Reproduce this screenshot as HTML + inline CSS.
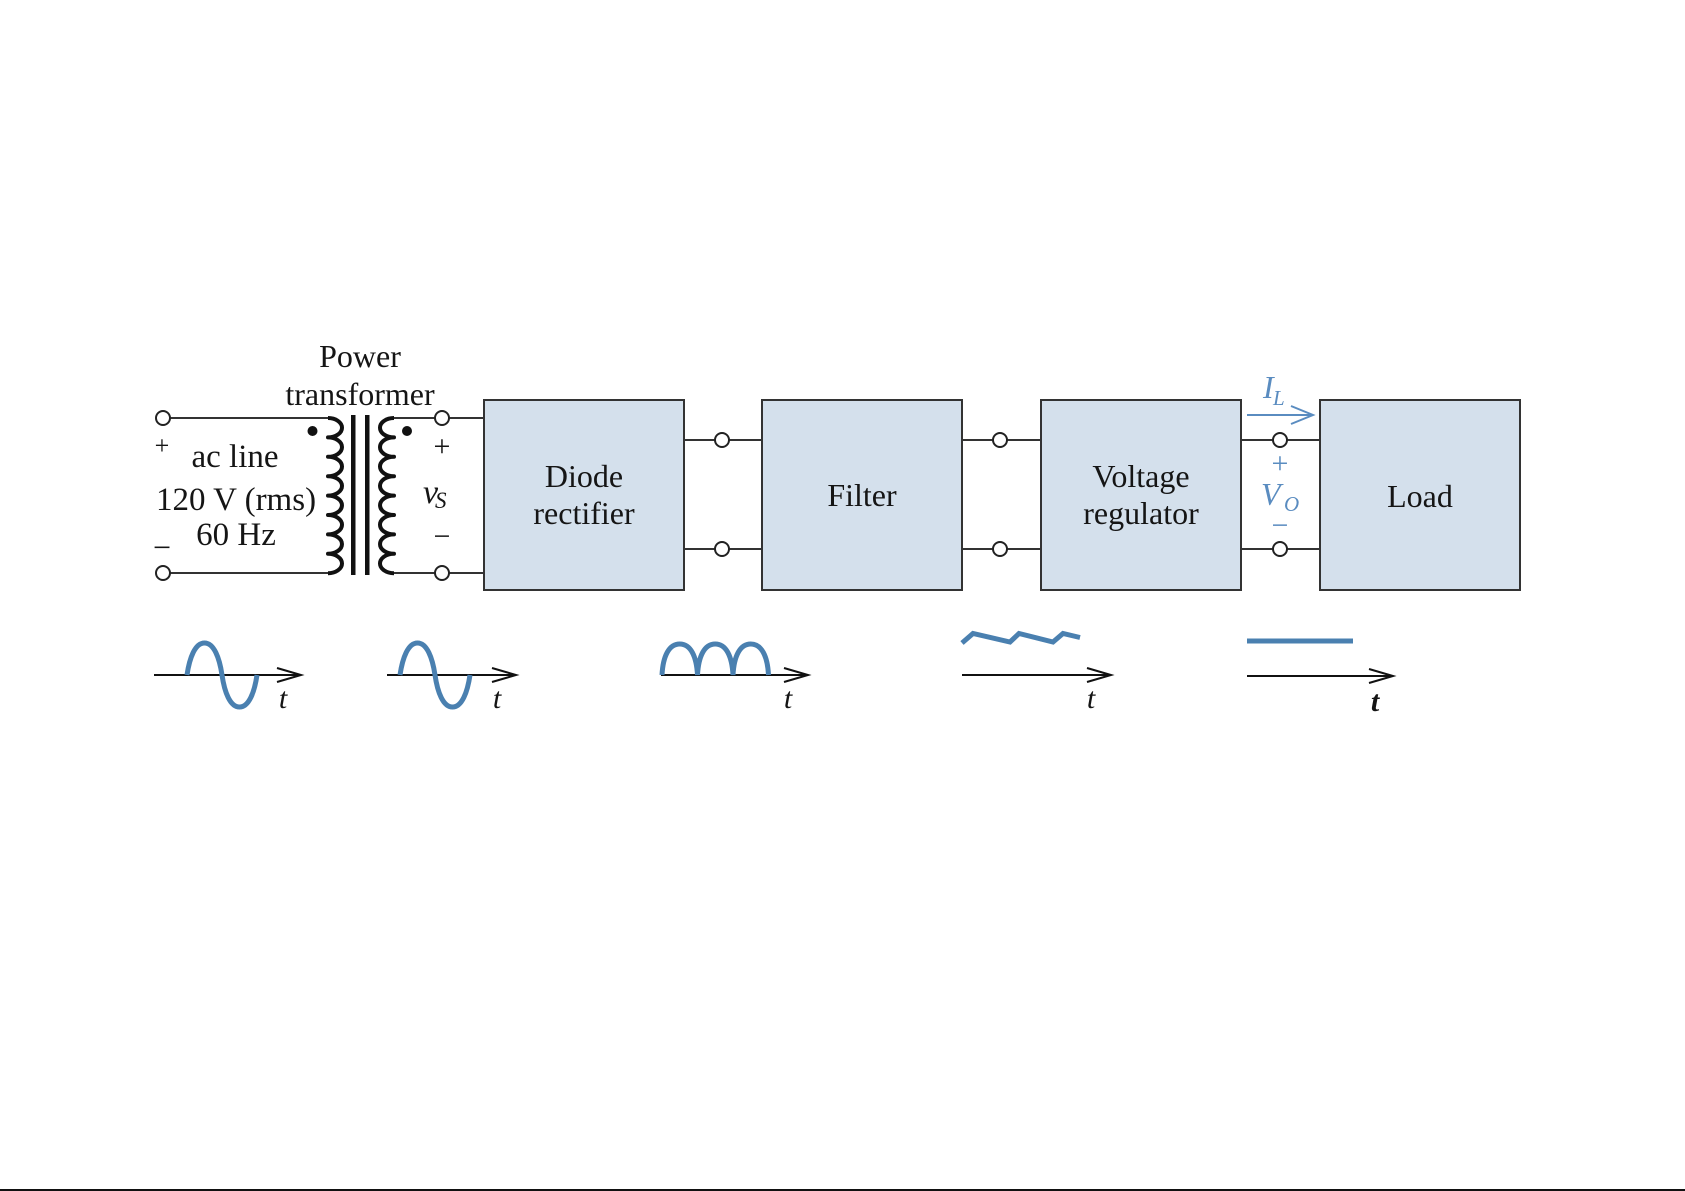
<!DOCTYPE html>
<html>
<head>
<meta charset="utf-8">
<style>
  html, body { margin:0; padding:0; background:#ffffff; }
  svg { display:block; }
  .t { font-family:"Liberation Serif", "Times New Roman", serif; fill:#151515; }
  .b { font-family:"Liberation Serif", "Times New Roman", serif; fill:#5a8cc0; }
</style>
</head>
<body>
<svg width="1685" height="1191" viewBox="0 0 1685 1191" xmlns="http://www.w3.org/2000/svg">
  <rect x="0" y="0" width="1685" height="1191" fill="#ffffff"/>

  <!-- ===== Input terminals & wires ===== -->
  <g stroke="#333" stroke-width="2" fill="none">
    <line x1="170" y1="418" x2="329" y2="418"/>
    <line x1="170" y1="573" x2="329" y2="573"/>
    <line x1="393" y1="418" x2="435" y2="418"/>
    <line x1="393" y1="573" x2="435" y2="573"/>
    <line x1="449" y1="418" x2="484" y2="418"/>
    <line x1="449" y1="573" x2="484" y2="573"/>
  </g>
  <g stroke="#222" stroke-width="2" fill="#fff">
    <circle cx="163" cy="418" r="7"/>
    <circle cx="163" cy="573" r="7"/>
    <circle cx="442" cy="418" r="7"/>
    <circle cx="442" cy="573" r="7"/>
  </g>

  <!-- ===== Transformer ===== -->
  <path fill="none" stroke="#111" stroke-width="4" stroke-linejoin="round"
    d="M328 418
       A14 9.7 0 0 1 328 437.4
       A14 9.7 0 0 1 328 456.8
       A14 9.7 0 0 1 328 476.2
       A14 9.7 0 0 1 328 495.6
       A14 9.7 0 0 1 328 515
       A14 9.7 0 0 1 328 534.4
       A14 9.7 0 0 1 328 553.8
       A14 9.7 0 0 1 328 573.2"/>
  <path fill="none" stroke="#111" stroke-width="4" stroke-linejoin="round"
    d="M394 418
       A14 9.7 0 0 0 394 437.4
       A14 9.7 0 0 0 394 456.8
       A14 9.7 0 0 0 394 476.2
       A14 9.7 0 0 0 394 495.6
       A14 9.7 0 0 0 394 515
       A14 9.7 0 0 0 394 534.4
       A14 9.7 0 0 0 394 553.8
       A14 9.7 0 0 0 394 573.2"/>
  <rect x="351" y="415" width="4.5" height="160" fill="#111"/>
  <rect x="365" y="415" width="4.5" height="160" fill="#111"/>
  <circle cx="312.5" cy="431" r="5" fill="#111"/>
  <circle cx="407" cy="431" r="5" fill="#111"/>

  <!-- Labels left -->
  <text class="t" x="360" y="367" font-size="32" text-anchor="middle">Power</text>
  <text class="t" x="360" y="405" font-size="32" text-anchor="middle">transformer</text>
  <text class="t" x="162" y="454" font-size="26" text-anchor="middle" fill="#333">+</text>
  <text class="t" x="162" y="558" font-size="32" text-anchor="middle">−</text>
  <text class="t" x="235" y="467" font-size="33" text-anchor="middle">ac line</text>
  <text class="t" x="236" y="510" font-size="33" text-anchor="middle">120 V (rms)</text>
  <text class="t" x="236" y="545" font-size="33" text-anchor="middle">60 Hz</text>
  <text class="t" x="442" y="456" font-size="30" text-anchor="middle">+</text>
  <text class="t" x="442" y="546" font-size="30" text-anchor="middle">−</text>
  <text class="t" x="423" y="503" font-size="34" font-style="italic">v</text>
  <text class="t" x="435" y="508" font-size="23" font-style="italic">S</text>

  <!-- ===== Blocks ===== -->
  <g fill="#d4e0ec" stroke="#333" stroke-width="2">
    <rect x="484" y="400" width="200" height="190"/>
    <rect x="762" y="400" width="200" height="190"/>
    <rect x="1041" y="400" width="200" height="190"/>
    <rect x="1320" y="400" width="200" height="190"/>
  </g>
  <text class="t" x="584" y="487" font-size="32" text-anchor="middle">Diode</text>
  <text class="t" x="584" y="524" font-size="32" text-anchor="middle">rectifier</text>
  <text class="t" x="862" y="506" font-size="32" text-anchor="middle">Filter</text>
  <text class="t" x="1141" y="487" font-size="32" text-anchor="middle">Voltage</text>
  <text class="t" x="1141" y="524" font-size="32" text-anchor="middle">regulator</text>
  <text class="t" x="1420" y="507" font-size="32" text-anchor="middle">Load</text>

  <!-- Inter-block wires -->
  <g stroke="#333" stroke-width="2" fill="none">
    <line x1="684" y1="440" x2="715" y2="440"/>
    <line x1="729" y1="440" x2="762" y2="440"/>
    <line x1="684" y1="549" x2="715" y2="549"/>
    <line x1="729" y1="549" x2="762" y2="549"/>
    <line x1="962" y1="440" x2="993" y2="440"/>
    <line x1="1007" y1="440" x2="1041" y2="440"/>
    <line x1="962" y1="549" x2="993" y2="549"/>
    <line x1="1007" y1="549" x2="1041" y2="549"/>
    <line x1="1241" y1="440" x2="1273" y2="440"/>
    <line x1="1287" y1="440" x2="1320" y2="440"/>
    <line x1="1241" y1="549" x2="1273" y2="549"/>
    <line x1="1287" y1="549" x2="1320" y2="549"/>
  </g>
  <g stroke="#222" stroke-width="2" fill="#fff">
    <circle cx="722" cy="440" r="7"/>
    <circle cx="722" cy="549" r="7"/>
    <circle cx="1000" cy="440" r="7"/>
    <circle cx="1000" cy="549" r="7"/>
    <circle cx="1280" cy="440" r="7"/>
    <circle cx="1280" cy="549" r="7"/>
  </g>

  <!-- I_L arrow and V_O -->
  <g stroke="#5a8cc0" stroke-width="2" fill="none">
    <line x1="1247" y1="415" x2="1313" y2="415"/>
    <polyline points="1291,406 1313,415 1291,424"/>
  </g>
  <text class="b" x="1263" y="398" font-size="32" font-style="italic">I</text>
  <text class="b" x="1273" y="405" font-size="21" font-style="italic">L</text>
  <text class="b" x="1280" y="473" font-size="30" text-anchor="middle">+</text>
  <text class="b" x="1261" y="505" font-size="32" font-style="italic">V</text>
  <text class="b" x="1284" y="511" font-size="21" font-style="italic">O</text>
  <text class="b" x="1280" y="535" font-size="30" text-anchor="middle">−</text>

  <!-- ===== Waveforms ===== -->
  <g stroke="#111" stroke-width="2" fill="none">
    <line x1="154" y1="675" x2="301" y2="675"/>
    <polyline points="277,668 301,675 277,682"/>
    <line x1="387" y1="675" x2="516" y2="675"/>
    <polyline points="492,668 516,675 492,682"/>
    <line x1="661" y1="675" x2="808" y2="675"/>
    <polyline points="784,668 808,675 784,682"/>
    <line x1="962" y1="675" x2="1111" y2="675"/>
    <polyline points="1087,668 1111,675 1087,682"/>
    <line x1="1247" y1="676" x2="1393" y2="676"/>
    <polyline points="1369,669 1393,676 1369,683"/>
  </g>

  <g stroke="#4a80b0" stroke-width="5" fill="none" stroke-linecap="butt" stroke-linejoin="miter">
    <!-- sine 1 -->
    <path d="M187 675 C189.5 658 195 643 204.5 643 C214 643 219.5 658 222 675
             C224.5 692 230 707 239.5 707 C249 707 254.5 692 257 675"/>
    <!-- sine 2 -->
    <path d="M400 675 C402.5 658 408 643 417.5 643 C427 643 432.5 658 435 675
             C437.5 692 443 707 452.5 707 C462 707 467.5 692 470 675"/>
    <!-- rectified -->
    <path d="M662 675 C663 656 669 644 679.75 644 C690.5 644 696.5 656 697.5 675
             C698.5 656 704.5 644 715.25 644 C726 644 732 656 733 675
             C734 656 740 644 750.75 644 C761.5 644 767.5 656 768.5 675"/>
    <!-- ripple -->
    <polyline points="962,643 973,633.5 1010,642 1019,633.5 1053,642 1063,633.5 1080,637.5"/>
    <!-- DC -->
    <line x1="1247" y1="641" x2="1353" y2="641"/>
  </g>

  <g class="t" font-size="30" font-style="italic" text-anchor="middle">
    <text x="283" y="708">t</text>
    <text x="497" y="708">t</text>
    <text x="788" y="708">t</text>
    <text x="1091" y="708">t</text>
    <text x="1375" y="711" font-weight="bold">t</text>
  </g>

  <!-- bottom border line -->
  <rect x="0" y="1189" width="1685" height="2" fill="#111"/>
</svg>
</body>
</html>
